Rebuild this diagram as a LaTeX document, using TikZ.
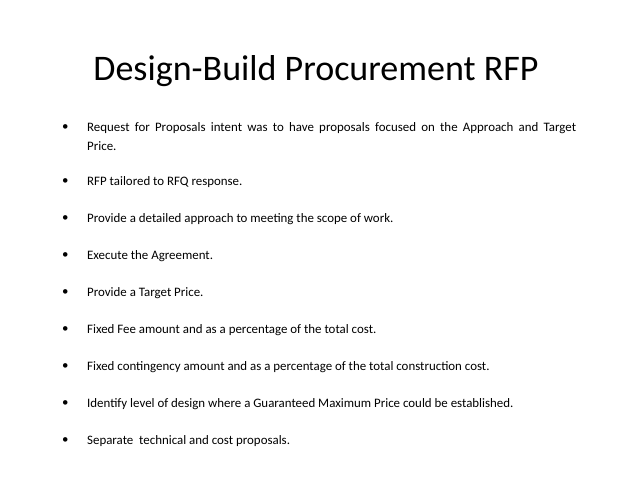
\documentclass[tikz,border=0pt]{standalone}
\usepackage{fontspec}
\setmainfont{Carlito}
\tikzset{%
  % styles for the slide
  title/.style = {font=\fontsize{36}{40}\selectfont, anchor=center},
  dot/.style   = {font=\fontsize{12.9}{15}\selectfont, anchor=west, inner sep=0pt},
  item/.style  = {font=\fontsize{12.9}{15}\selectfont, anchor=west, inner sep=0pt, align=left},
}
\begin{document}
\begin{tikzpicture}[x=1pt, y=-1pt]
    \useasboundingbox (0,0) rectangle (638,493);
    % Title
    \node (head) [title] at (316,71) {Design-Build Procurement RFP};

    % First item (two lines, first one stretched)
    \node (d1) [dot] at (62,128) {\textbullet};
    \node (t1) [item] at (87,128)
      {\makebox[489pt][s]{Request for Proposals intent was to have proposals focused on the Approach and Target}};
    \node (t1b) [item] at (87,146) {Price.};

    % Remaining items
    \foreach \y/\txt [count=\i from 2] in {
        182/{RFP tailored to RFQ response.},
        219/{Provide a detailed approach to meeting the scope of work.},
        256/{Execute the Agreement.},
        293/{Provide a Target Price.},
        330/{Fixed Fee amount and as a percentage of the total cost.},
        367/{Fixed contingency amount and as a percentage of the total construction cost.},
        404/{Identify level of design where a Guaranteed Maximum Price could be established.},
        441/{Separate\ \ technical and cost proposals.}} {
      \node (d\i) [dot] at (62,\y) {\textbullet};
      \node (t\i) [item] at (87,\y) {\txt};
    }
\end{tikzpicture}
\end{document}
